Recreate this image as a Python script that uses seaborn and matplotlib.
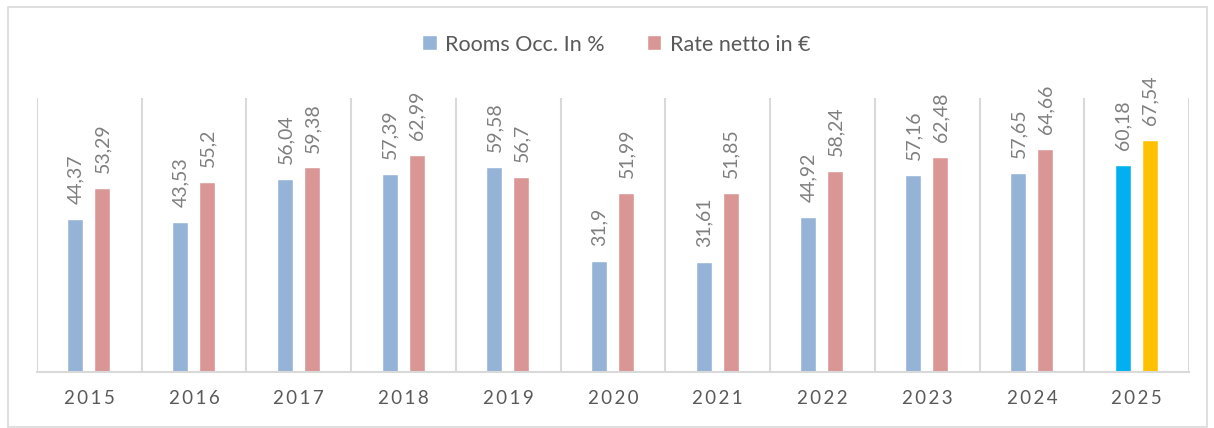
import pandas as pd
import numpy as np
import seaborn as sns
import matplotlib.pyplot as plt
from matplotlib.patches import Rectangle

years = ['2015', '2016', '2017', '2018', '2019', '2020', '2021', '2022', '2023', '2024', '2025']
rooms_occ = [44.37, 43.53, 56.04, 57.39, 59.58, 31.9, 31.61, 44.92, 57.16, 57.65, 60.18]
rate_netto = [53.29, 55.2, 59.38, 62.99, 56.7, 51.99, 51.85, 58.24, 62.48, 64.66, 67.54]
series = ['Rooms Occ. In %', 'Rate netto in €']

df = pd.DataFrame({'year': years * 2,
                   'value': rooms_occ + rate_netto,
                   'series': [series[0]] * len(years) + [series[1]] * len(years)})

sns.set_style('white')
plt.rcParams['font.family'] = ['Lato', 'DejaVu Sans']

fig = plt.figure(figsize=(12.14, 4.28), dpi=100)
ax = fig.add_axes([37 / 1214, 1 - 371.5 / 428, (1189 - 37) / 1214, (371.5 - 98) / 428])

sns.barplot(data=df, x='year', y='value', hue='series', order=years,
            palette=['#95B3D7', '#D99694'], saturation=1, width=0.516, gap=0.445,
            edgecolor='white', linewidth=0.3, ax=ax)

# highlight the current year
ax.containers[0][-1].set_facecolor('#00B0F0')
ax.containers[1][-1].set_facecolor('#FFC000')

for cont, vals in zip(ax.containers, [rooms_occ, rate_netto]):
    ax.bar_label(cont, labels=[f'{v:g}'.replace('.', ',') for v in vals],
                 rotation=90, padding=11.5, fontsize=14, color='#7F7F7F')

ax.set_ylim(0, 80)
ax.set_xlim(-0.5, len(years) - 0.5)
ax.set_yticks([])
ax.set_xlabel('')
ax.set_ylabel('')
ax.set_xticks(range(len(years)))
ax.set_xticklabels(['\u2009'.join(y) for y in years], fontsize=13.5, color='#595959')
ax.tick_params(axis='x', length=0, pad=13)
ax.set_xticks(np.arange(-0.5, len(years)), minor=True)
ax.tick_params(axis='x', which='minor', length=0)
ax.grid(True, which='minor', axis='x', color='#D9D9D9', linewidth=1.5)
for s in ['top', 'left', 'right']:
    ax.spines[s].set_visible(False)
ax.spines['bottom'].set_color('#D9D9D9')
ax.spines['bottom'].set_linewidth(1.5)

ax.legend_.remove()
handles, labels = ax.get_legend_handles_labels()
fig.legend(handles, labels, loc='center', bbox_to_anchor=(617 / 1214, 1 - 45 / 428),
           ncol=2, frameon=False, fontsize=15.5, labelcolor='#595959',
           handlelength=0.62, handleheight=0.62, handletextpad=0.4, columnspacing=2.0)

fig.patches.append(Rectangle((8 / 1214, 1 / 428), 1199 / 1214, 420 / 428,
                             transform=fig.transFigure, fill=False,
                             edgecolor='#D9D9D9', linewidth=1.2))

fig.savefig('out.png', dpi=100)
